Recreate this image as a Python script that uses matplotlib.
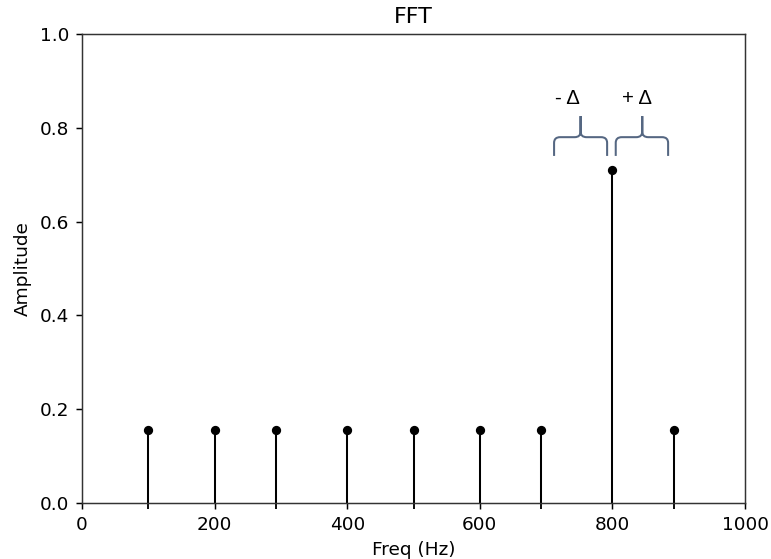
import matplotlib
matplotlib.use("Agg")
import matplotlib.pyplot as plt
from matplotlib.path import Path
from matplotlib.patches import PathPatch

# Spectrum lines: frequency (Hz) and amplitude
freqs = [100, 200, 293, 400, 500, 600, 692, 800, 893]
amps = [0.155, 0.155, 0.155, 0.155, 0.155, 0.155, 0.155, 0.71, 0.155]
xticks = [0, 200, 400, 600, 800, 1000]
yticks = [0.0, 0.2, 0.4, 0.6, 0.8, 1.0]
shift_labels = ["- Δ", "+ Δ"]

BRACE_COLOR = "#556782"
DPI = 133.33


def draw_brace(ax, x0, x1, xm, y0, yh, y1, rx, ry, color, lw=1.1):
    """Upward-pointing curly brace spanning x0..x1 with its tip at (xm, y1)."""
    verts, codes = [], []
    for xe, sgn in ((x0, 1), (x1, -1)):
        verts += [(xe, y0), (xe, yh - ry), (xe, yh), (xe + sgn * rx, yh),
                  (xm - sgn * rx, yh), (xm, yh), (xm, yh + ry), (xm, y1)]
        codes += [Path.MOVETO, Path.LINETO, Path.CURVE3, Path.CURVE3,
                  Path.LINETO, Path.CURVE3, Path.CURVE3, Path.LINETO]
    ax.add_patch(PathPatch(Path(verts, codes), fill=False, edgecolor=color,
                           lw=lw, capstyle="butt", joinstyle="round"))


fig = plt.figure(figsize=(771 / DPI, 559 / DPI), dpi=DPI)
ax = fig.add_axes([0.1064, 0.1002, 0.8599, 0.8390])

markerline, stemlines, baseline = ax.stem(freqs, amps, linefmt="k-",
                                          markerfmt="ko", basefmt=" ")
markerline.set_markersize(4)
stemlines.set_linewidth(1.1)

ax.set_xlim(0, 1000)
ax.set_ylim(0, 1.0)
ax.set_xticks(xticks)
ax.set_yticks(yticks)
ax.set_xticks(freqs, minor=True)
ax.tick_params(axis="x", which="minor", length=3.5, width=1.0)
for sp in ax.spines.values():
    sp.set_color("#333333")

ax.set_title("FFT", fontsize=12)
ax.set_xlabel("Freq (Hz)")
ax.set_ylabel("Amplitude")

# Braces marking the offsets on either side of the main peak
draw_brace(ax, 712, 792, 752, 0.740, 0.780, 0.825, 9, 0.012, BRACE_COLOR)
draw_brace(ax, 805, 884, 845, 0.740, 0.780, 0.825, 9, 0.012, BRACE_COLOR)
ax.text(732, 0.863, shift_labels[0], ha="center", va="center", fontsize=11,
        family="Liberation Sans")
ax.text(837, 0.863, shift_labels[1], ha="center", va="center", fontsize=11,
        family="Liberation Sans")

fig.savefig("out.png", dpi=DPI)
